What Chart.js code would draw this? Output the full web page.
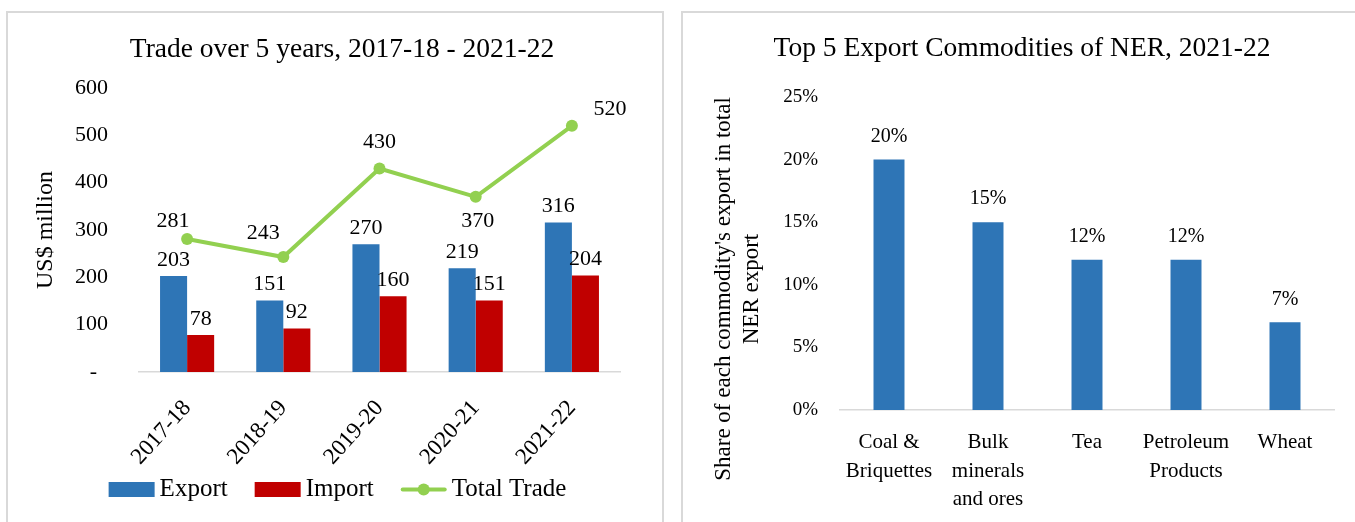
<!DOCTYPE html>
<html>
<head>
<meta charset="utf-8">
<script src="https://cdn.jsdelivr.net/npm/chart.js@4.4.0/dist/chart.umd.min.js"></script>
<style>
  html, body { margin: 0; padding: 0; background: #fff; }
  body { width: 1355px; height: 522px; position: relative; overflow: hidden; }
  .panel { position: absolute; top: 11px; height: 520px; border: 2px solid #d9d9d9; background: #fff; }
  #leftPanel { left: 6px; width: 654px; }
  #rightPanel { left: 681px; width: 700px; }
  canvas { display: block; }
</style>
</head>
<body>
<div class="panel" id="leftPanel"><canvas id="tradeChart" width="654" height="509"></canvas></div>
<div class="panel" id="rightPanel"><canvas id="commodityChart" width="672" height="509"></canvas></div>
<script>
// data
const years = ['2017-18', '2018-19', '2019-20', '2020-21', '2021-22'];
const exportValues = [203, 151, 270, 219, 316];
const importValues = [78, 92, 160, 151, 204];
const totalTrade = [281, 243, 430, 370, 520];

const commodities = [['Coal &', 'Briquettes'], ['Bulk', 'minerals', 'and ores'], 'Tea', ['Petroleum', 'Products'], 'Wheat'];
const exportShare = [0.20, 0.15, 0.12, 0.12, 0.07];

const BLUE = '#2E75B6';
const RED = '#C00000';
const GREEN = '#92D050';
const SERIF = "'Liberation Serif', 'Times New Roman', serif";

Chart.defaults.font.family = SERIF;
Chart.defaults.color = '#000';

// where the Total Trade numbers sit relative to their points
const totalLabelShift = [[-14, -18], [-20, -24], [0, -26], [2, 24], [38, -17]];

const valueLabels = {
    id: 'valueLabels',
    afterDatasetsDraw(chart, args, opts) {
        const ctx = chart.ctx;
        ctx.save();
        ctx.font = opts.font;
        ctx.fillStyle = '#000';
        ctx.textAlign = 'center';
        ctx.textBaseline = 'middle';
        chart.data.datasets.forEach((ds, di) => {
            const meta = chart.getDatasetMeta(di);
            meta.data.forEach((el, i) => {
                const shift = ds.labelShift ? ds.labelShift[i] : [0, -opts.gap];
                ctx.fillText(opts.format(ds.data[i]), el.x + shift[0], el.y + shift[1]);
            });
        });
        ctx.restore();
    }
};

// two-line rotated axis title, sitting a bit below the middle of the axis
const sideTitle = {
    id: 'sideTitle',
    afterDraw(chart, args, opts) {
        if (!opts.lines) return;
        const { ctx, chartArea } = chart;
        ctx.save();
        ctx.translate(opts.x, (chartArea.top + chartArea.bottom) / 2 + opts.shift);
        ctx.rotate(-Math.PI / 2);
        ctx.font = opts.font;
        ctx.fillStyle = '#000';
        ctx.textAlign = 'center';
        ctx.textBaseline = 'middle';
        opts.lines.forEach((t, i) => ctx.fillText(t, 0, i * opts.lineHeight));
        ctx.restore();
    }
};

// Excel-like legend: wide swatches, line series shown as line + marker
const bottomLegend = {
    id: 'bottomLegend',
    afterDraw(chart, args, opts) {
        if (!opts.font) return;
        const ctx = chart.ctx;
        ctx.save();
        ctx.font = opts.font;
        ctx.textAlign = 'left';
        ctx.textBaseline = 'middle';
        const items = chart.data.datasets.map(ds => ({ ds, w: ctx.measureText(ds.label).width }));
        const total = items.reduce((s, it) => s + opts.boxWidth + opts.textGap + it.w, 0) + opts.itemGap * (items.length - 1);
        let x = chart.width / 2 + opts.shiftX - total / 2;
        const y = chart.height - opts.fromBottom;
        items.forEach(({ ds, w }) => {
            if (ds.type === 'line') {
                ctx.strokeStyle = ds.borderColor;
                ctx.lineWidth = ds.borderWidth;
                ctx.lineCap = 'round';
                ctx.beginPath();
                ctx.moveTo(x + 2, y);
                ctx.lineTo(x + opts.boxWidth - 2, y);
                ctx.stroke();
                ctx.fillStyle = ds.pointBackgroundColor;
                ctx.beginPath();
                ctx.arc(x + opts.boxWidth / 2, y, ds.pointRadius, 0, Math.PI * 2);
                ctx.fill();
            } else {
                ctx.fillStyle = ds.backgroundColor;
                ctx.fillRect(x, y - opts.boxHeight / 2, opts.boxWidth, opts.boxHeight);
            }
            x += opts.boxWidth + opts.textGap;
            ctx.fillStyle = '#000';
            ctx.fillText(ds.label, x, y);
            x += w + opts.itemGap;
        });
        ctx.restore();
    }
};

const pct = v => Math.round(v * 100) + '%';

// empty axis on the right, only there to keep a margin without shifting the title
const spacerAxis = width => ({
    position: 'right',
    grid: { display: false, drawTicks: false },
    border: { display: false },
    ticks: { display: false },
    afterFit: s => { s.width = width; }
});

new Chart(document.getElementById('tradeChart'), {
    type: 'bar',
    data: {
        labels: years,
        datasets: [
            { label: 'Export', data: exportValues, backgroundColor: BLUE, categoryPercentage: 0.5625, barPercentage: 1 },
            { label: 'Import', data: importValues, backgroundColor: RED, categoryPercentage: 0.5625, barPercentage: 1 },
            {
                type: 'line', label: 'Total Trade', data: totalTrade, order: -1,
                borderColor: GREEN, backgroundColor: GREEN, borderWidth: 4,
                pointRadius: 6, pointBackgroundColor: GREEN, pointBorderWidth: 0,
                labelShift: totalLabelShift
            }
        ]
    },
    options: {
        responsive: false,
        animation: false,
        layout: { padding: { top: 0, left: 14, right: 0, bottom: 40 } },
        scales: {
            x: {
                grid: { display: false, drawTicks: false },
                border: { color: '#d9d9d9', width: 1.5 },
                ticks: { font: { size: 23 }, minRotation: 48, maxRotation: 48, padding: 23 },
                afterFit: s => { s.height = 110; }
            },
            y: {
                min: 0,
                max: 600,
                grid: { display: false, drawTicks: false },
                border: { display: false },
                ticks: { stepSize: 100, font: { size: 22 }, padding: 31, callback: v => (v === 0 ? '-  ' : v) },
                title: { display: true, text: 'US$ million', font: { size: 24 }, padding: { top: 9, bottom: 0 } },
                afterFit: s => { s.width = 117; }
            },
            y2: spacerAxis(42)
        },
        plugins: {
            title: {
                display: true,
                text: 'Trade over 5 years, 2017-18 - 2021-22',
                font: { size: 27.5, weight: 'normal' },
                padding: { top: 20.5, bottom: 21.5 }
            },
            legend: { display: false },
            tooltip: { enabled: false },
            valueLabels: { font: '22px ' + SERIF, gap: 16, format: v => v },
            bottomLegend: { font: '25px ' + SERIF, boxWidth: 46, boxHeight: 15, textGap: 5, itemGap: 27, shiftX: 2.5, fromBottom: 32.5 }
        }
    },
    plugins: [valueLabels, bottomLegend]
});

new Chart(document.getElementById('commodityChart'), {
    type: 'bar',
    data: {
        labels: commodities,
        datasets: [
            { label: 'Share', data: exportShare, backgroundColor: BLUE, categoryPercentage: 1, barPercentage: 0.313 }
        ]
    },
    options: {
        responsive: false,
        animation: false,
        layout: { padding: { top: 0, left: 6, right: 0, bottom: 0 } },
        scales: {
            x: {
                grid: { display: false, drawTicks: false },
                border: { color: '#d9d9d9', width: 1.5 },
                ticks: { font: { size: 21, lineHeight: 1.35 }, padding: 18.8, maxRotation: 0, autoSkip: false },
                afterFit: s => { s.height = 112; }
            },
            y: {
                min: 0,
                max: 0.25,
                grid: { display: false, drawTicks: false },
                border: { display: false },
                ticks: { stepSize: 0.05, font: { size: 19 }, padding: 21.5, callback: pct },
                afterFit: s => { s.width = 150.5; }
            },
            y2: spacerAxis(20.5)
        },
        plugins: {
            title: {
                display: true,
                text: 'Top 5 Export Commodities of NER, 2021-22',
                font: { size: 27.5, weight: 'normal' },
                padding: { top: 19.5, bottom: 31.5 }
            },
            legend: { display: false },
            tooltip: { enabled: false },
            valueLabels: { font: '20px ' + SERIF, gap: 23, format: pct },
            sideTitle: {
                lines: ["Share of each commodity's export in total", 'NER export'],
                font: '23px ' + SERIF,
                x: 41,
                lineHeight: 28,
                shift: 35.5
            }
        }
    },
    plugins: [valueLabels, sideTitle]
});
</script>
</body>
</html>
